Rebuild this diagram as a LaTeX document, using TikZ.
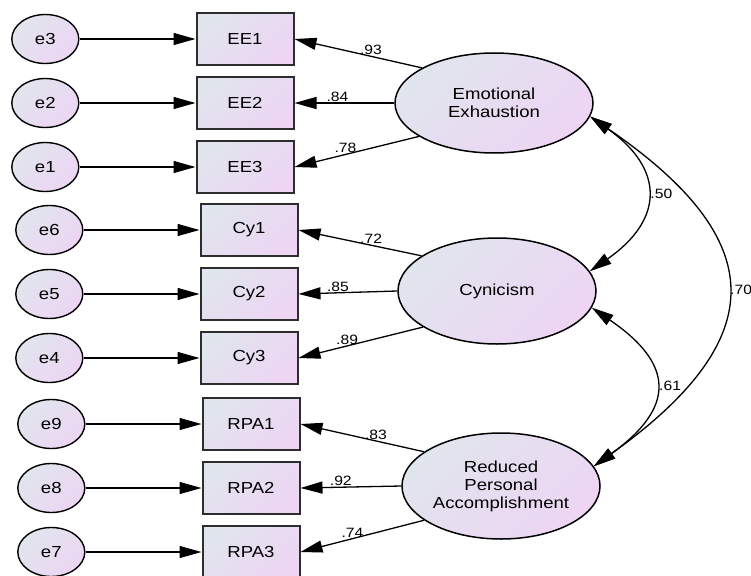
\documentclass[tikz,border=0pt]{standalone}
\usepackage{fontspec}
\setmainfont{Liberation Sans}[FakeStretch=1.16]
\usetikzlibrary{positioning,arrows.meta,shapes.geometric}

\definecolor{shadeA}{RGB}{225,229,238}
\definecolor{shadeB}{RGB}{237,213,243}
\definecolor{boxline}{RGB}{45,45,45}

\begin{document}
\begin{tikzpicture}[
    x=1pt, y=1pt,
    font=\fontsize{16}{18}\selectfont,
    grad/.style={top color=shadeA, bottom color=shadeB, shading angle=45},
    obs/.style={draw=boxline, line width=2pt, grad, minimum width=97pt,
                minimum height=52pt, inner sep=0pt},
    err/.style={ellipse, draw, line width=1.4pt, grad, minimum width=67pt,
                minimum height=49pt, inner sep=0pt},
    lat/.style={ellipse, draw, line width=1.5pt, grad, minimum width=198pt,
                minimum height=106pt, align=center, inner sep=0pt},
    load/.style={-{Triangle[length=22pt,width=12pt]}, line width=1.3pt},
    cov/.style={{Triangle[length=22pt,width=12pt]}-{Triangle[length=22pt,width=12pt]},
                line width=1.3pt},
    coef/.style={font=\fontsize{13.5}{15}\selectfont, inner sep=1pt},
  ]
  \useasboundingbox (0,0) rectangle (751,-575);
  % latent factors
  \node[lat, minimum height=100pt] (EE) at (494,-103) {Emotional\\Exhaustion};
  \node[lat] (Cyn) at (497,-291) {Cynicism};
  \node[lat] (RPA) at (501,-486) {Reduced\\Personal\\Accomplishment};
  % observed items
  \node[obs] (EE1) at (245,-39) {EE1};
  \node[obs, below=10pt of EE1] (EE2) {EE2};
  \node[obs, below=10pt of EE2] (EE3) {EE3};
  \node[obs] (Cy1) at (249,-230) {Cy1};
  \node[obs, below=10pt of Cy1] (Cy2) {Cy2};
  \node[obs, below=10pt of Cy2] (Cy3) {Cy3};
  \node[obs] (RPA1) at (251,-424) {RPA1};
  \node[obs, below=10pt of RPA1] (RPA2) {RPA2};
  \node[obs, below=10pt of RPA2] (RPA3) {RPA3};
  % error terms
  \node[err, left=116pt of EE1]  (e3) {e3};
  \node[err, left=116pt of EE2]  (e2) {e2};
  \node[err, left=116pt of EE3]  (e1) {e1};
  \node[err, left=116pt of Cy1]  (e6) {e6};
  \node[err, left=116pt of Cy2]  (e5) {e5};
  \node[err, left=116pt of Cy3]  (e4) {e4};
  \node[err, left=116pt of RPA1] (e9) {e9};
  \node[err, left=116pt of RPA2] (e8) {e8};
  \node[err, left=116pt of RPA3] (e7) {e7};
  \foreach \e/\b in {e3/EE1,e2/EE2,e1/EE3,e6/Cy1,e5/Cy2,e4/Cy3,e9/RPA1,e8/RPA2,e7/RPA3}{
    \draw[load] (\e) -- (\b);
  }
  % factor loadings
  \foreach \f/\a/\i/\p/\v in {EE/154/EE1/0.4/.93, EE/180/EE2/0.57/.84, EE/204/EE3/0.59/.78,
      Cyn/155/Cy1/0.41/.72, Cyn/180/Cy2/0.6/.85, Cyn/206/Cy3/0.61/.89,
      RPA/156/RPA1/0.39/.83, RPA/180/RPA2/0.6/.92, RPA/204/RPA3/0.58/.74}{
    \draw[load] (\f.\a) -- node[coef, above, pos=\p] {\v} (\i.east);
  }
  % correlations
  \draw[cov] (EE.-8) to[bend left=55, looseness=1.5]
    node[coef, right, xshift=3pt] {.50} (Cyn.12);
  \draw[cov] (Cyn.-10) to[bend left=55, looseness=1.62]
    node[coef, right, xshift=3pt] {.61} (RPA.12);
  \draw[cov] (EE.-8) to[bend left=55, looseness=1.6]
    node[coef, right, xshift=2pt] {.70} (RPA.12);
\end{tikzpicture}
\end{document}
